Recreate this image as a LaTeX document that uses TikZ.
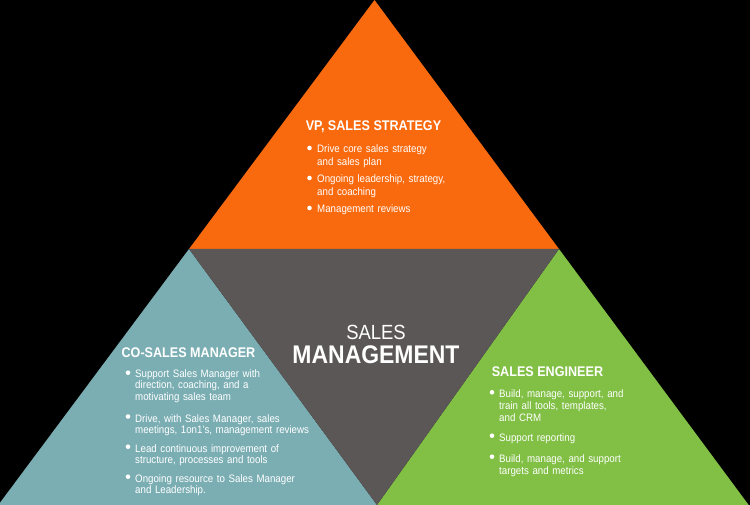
\documentclass[tikz,border=0pt]{standalone}
\usepackage{fontspec}
\setmainfont{Liberation Sans}[FakeStretch=0.9]
\definecolor{vporange}{HTML}{F96A0E}
\definecolor{coteal}{HTML}{7BAEB3}
\definecolor{smgray}{HTML}{5B5756}
\definecolor{segreen}{HTML}{81BF45}
\begin{document}
\begin{tikzpicture}[x=1pt,y=-1pt,
  titletxt/.style={font=\fontsize{14}{16}\selectfont\bfseries, text=white, inner sep=0pt, anchor=base},
  itemA/.style={font=\fontsize{10.8}{12.8}\selectfont, text=white, inner sep=0pt, anchor=base west, align=left, text width=220pt},
  itemB/.style={font=\fontsize{10.8}{11.7}\selectfont, text=white, inner sep=0pt, anchor=base west, align=left, text width=220pt},
  itemC/.style={font=\fontsize{10.8}{12}\selectfont, text=white, inner sep=0pt, anchor=base west, align=left, text width=220pt},
  dot/.style={circle, fill=white, inner sep=0pt, minimum size=4.6pt}]
\useasboundingbox (0,0) rectangle (750,505);
\clip (0,0) rectangle (750,505);
\fill[black] (0,0) rectangle (750,505);
% shapes
\coordinate (apex) at (374.5,0);
\coordinate (lm) at (189,249);
\coordinate (rm) at (559,249);
\coordinate (bl) at (-1.7,505);
\coordinate (br) at (748.7,505);
\coordinate (bm) at (377,505);
\fill[vporange] (apex) -- (lm) -- (rm) -- cycle;
\fill[coteal] (lm) -- (bl) -- (bm) -- cycle;
\fill[segreen] (rm) -- (bm) -- (br) -- cycle;
\fill[smgray] (lm) -- (rm) -- (bm) -- cycle;
% center
\node[font=\fontsize{20.5}{24}\selectfont, text=white, inner sep=0pt, anchor=base] (sales) at (376,339) {SALES};
\node[font=\fontsize{25.5}{30}\selectfont\bfseries, text=white, inner sep=0pt, anchor=base] (mgmt) at (376,363) {MANAGEMENT};
% top
\node[titletxt] (vp) at (373.5,131) {VP, SALES STRATEGY};
\node[itemA] (t1) at (317,153) {Drive core sales strategy\\and sales plan};
\node[itemA] (t2) at (317,183) {Ongoing leadership, strategy,\\and coaching};
\node[itemA] (t3) at (317,213) {Management reviews};
\node[dot] (tb1) at (309.5,148) {};
\node[dot] (tb2) at (309.5,178) {};
\node[dot] (tb3) at (309.5,208) {};
% left
\node[titletxt] (co) at (188.5,357) {CO-SALES MANAGER};
\node[itemB] (c1) at (135,377) {Support Sales Manager with\\direction, coaching, and a\\motivating sales team};
\node[itemB] (c2) at (135,422) {Drive, with Sales Manager, sales\\meetings, 1on1's, management reviews};
\node[itemB] (c3) at (135,452) {Lead continuous improvement of\\structure, processes and tools};
\node[itemB] (c4) at (135,482) {Ongoing resource to Sales Manager\\and Leadership.};
\node[dot] (cb1) at (128,372.7) {};
\node[dot] (cb2) at (128,416.5) {};
\node[dot] (cb3) at (128,446.7) {};
\node[dot] (cb4) at (128,476.7) {};
% right
\node[titletxt] (se) at (547.5,376) {SALES ENGINEER};
\node[itemC] (e1) at (499,397) {Build, manage, support, and\\train all tools, templates,\\and CRM};
\node[itemC] (e2) at (499,441) {Support reporting};
\node[itemC] (e3) at (499,462) {Build, manage, and support\\targets and metrics};
\node[dot] (eb1) at (492,392.3) {};
\node[dot] (eb2) at (492,435.7) {};
\node[dot] (eb3) at (492,456.7) {};
\end{tikzpicture}
\end{document}
